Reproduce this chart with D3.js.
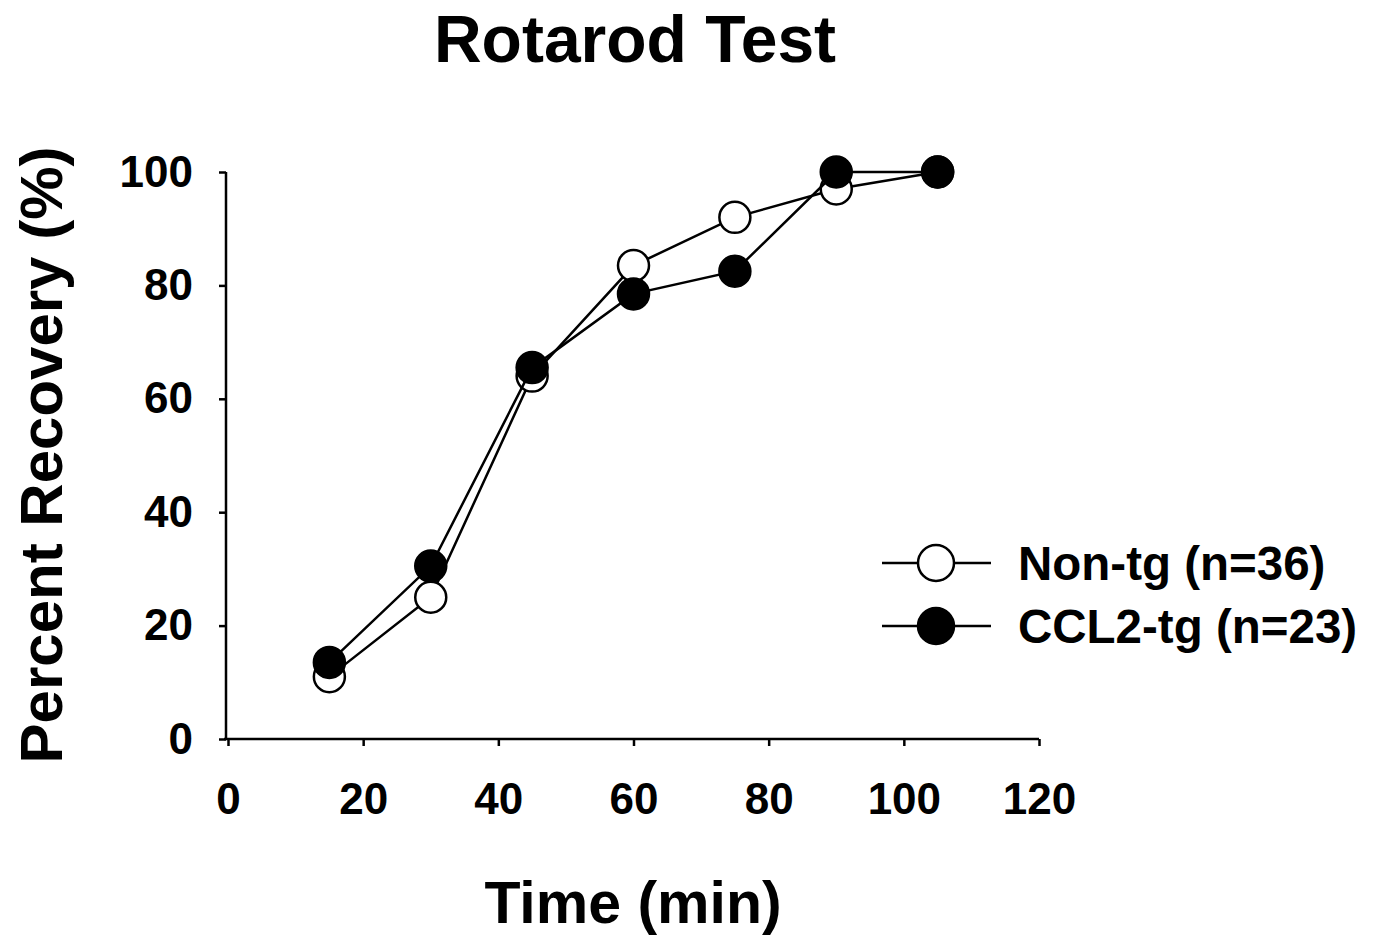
<!DOCTYPE html>
<html>
<head>
<meta charset="utf-8">
<script src="https://cdn.jsdelivr.net/npm/d3@7"></script>
<style>
  body { margin: 0; background: #fff; }
  text { font-family: "Liberation Sans", Arial, sans-serif; font-weight: bold; fill: #000; }
</style>
</head>
<body>
<svg id="viz" width="1376" height="937"></svg>
<script>
var width = 1376;
var height = 937;

// data
var times = [15, 30, 45, 60, 75, 90, 105];
var nonTg = [11, 25, 64, 83.5, 92, 97, 100];
var ccl2Tg = [13.5, 30.5, 65.5, 78.5, 82.5, 100, 100];
var seriesNames = ["Non-tg (n=36)", "CCL2-tg (n=23)"];
var xTicks = [0, 20, 40, 60, 80, 100, 120];
var yTicks = [0, 20, 40, 60, 80, 100];

var series = [
  { name: seriesNames[0], values: nonTg, fill: "#fff" },
  { name: seriesNames[1], values: ccl2Tg, fill: "#000" }
];

var svg = d3.select("#viz");

var x = d3.scaleLinear().domain([0, 120]).range([228, 1039]);
var y = d3.scaleLinear().domain([0, 100]).range([739, 172]);

// title
svg.append("text")
  .attr("x", 635).attr("y", 62)
  .attr("text-anchor", "middle")
  .style("font-size", "66px")
  .text("Rotarod Test");

// axes
var xAxis = svg.append("g")
  .attr("transform", "translate(0," + y(0) + ")")
  .call(d3.axisBottom(x).tickValues(xTicks).tickSize(7).tickPadding(37));

var yAxis = svg.append("g")
  .attr("transform", "translate(" + (x(0) - 2) + ",0)")
  .call(d3.axisLeft(y).tickValues(yTicks).tickSize(7).tickPadding(26));

[xAxis, yAxis].forEach(function (a) {
  a.select(".domain").attr("stroke-width", 2.5)
    .attr("d", a === xAxis ? "M" + (x(0) - 4) + ",0H" + x(120) : "M0," + y(0) + "V" + y(100));
  a.selectAll(".tick line").attr("stroke-width", 2.5);
  a.selectAll(".tick text")
    .style("font-size", "44px")
    .style("font-family", "'Liberation Sans', Arial, sans-serif")
    .style("font-weight", "bold");
});

// axis labels
svg.append("text")
  .attr("x", 633).attr("y", 923)
  .attr("text-anchor", "middle")
  .style("font-size", "59px")
  .text("Time (min)");

svg.append("text")
  .attr("transform", "translate(62,455) rotate(-90)")
  .attr("text-anchor", "middle")
  .style("font-size", "60px")
  .text("Percent Recovery (%)");

// lines and markers
var line = d3.line()
  .x(function (d, i) { return x(times[i]); })
  .y(function (d) { return y(d); });

series.forEach(function (s) {
  var g = svg.append("g");
  g.append("path")
    .datum(s.values)
    .attr("d", line)
    .attr("fill", "none")
    .attr("stroke", "#000")
    .attr("stroke-width", 2.5);
  g.selectAll("circle")
    .data(s.values)
    .join("circle")
    .attr("cx", function (d, i) { return x(times[i]); })
    .attr("cy", function (d) { return y(d); })
    .attr("r", 15.5)
    .attr("fill", s.fill)
    .attr("stroke", "#000")
    .attr("stroke-width", 2.5);
});

// legend
var legend = svg.append("g")
  .selectAll("g")
  .data(series)
  .join("g")
  .attr("transform", function (d, i) { return "translate(0," + (563 + i * 63) + ")"; });

legend.append("line")
  .attr("x1", 882).attr("x2", 991)
  .attr("stroke", "#000").attr("stroke-width", 2.5);
legend.append("circle")
  .attr("cx", 936).attr("r", 18)
  .attr("fill", function (d) { return d.fill; })
  .attr("stroke", "#000").attr("stroke-width", 2.5);
legend.append("text")
  .attr("x", 1018).attr("dy", "0.36em")
  .style("font-size", "47.5px")
  .text(function (d) { return d.name; });
</script>
</body>
</html>
